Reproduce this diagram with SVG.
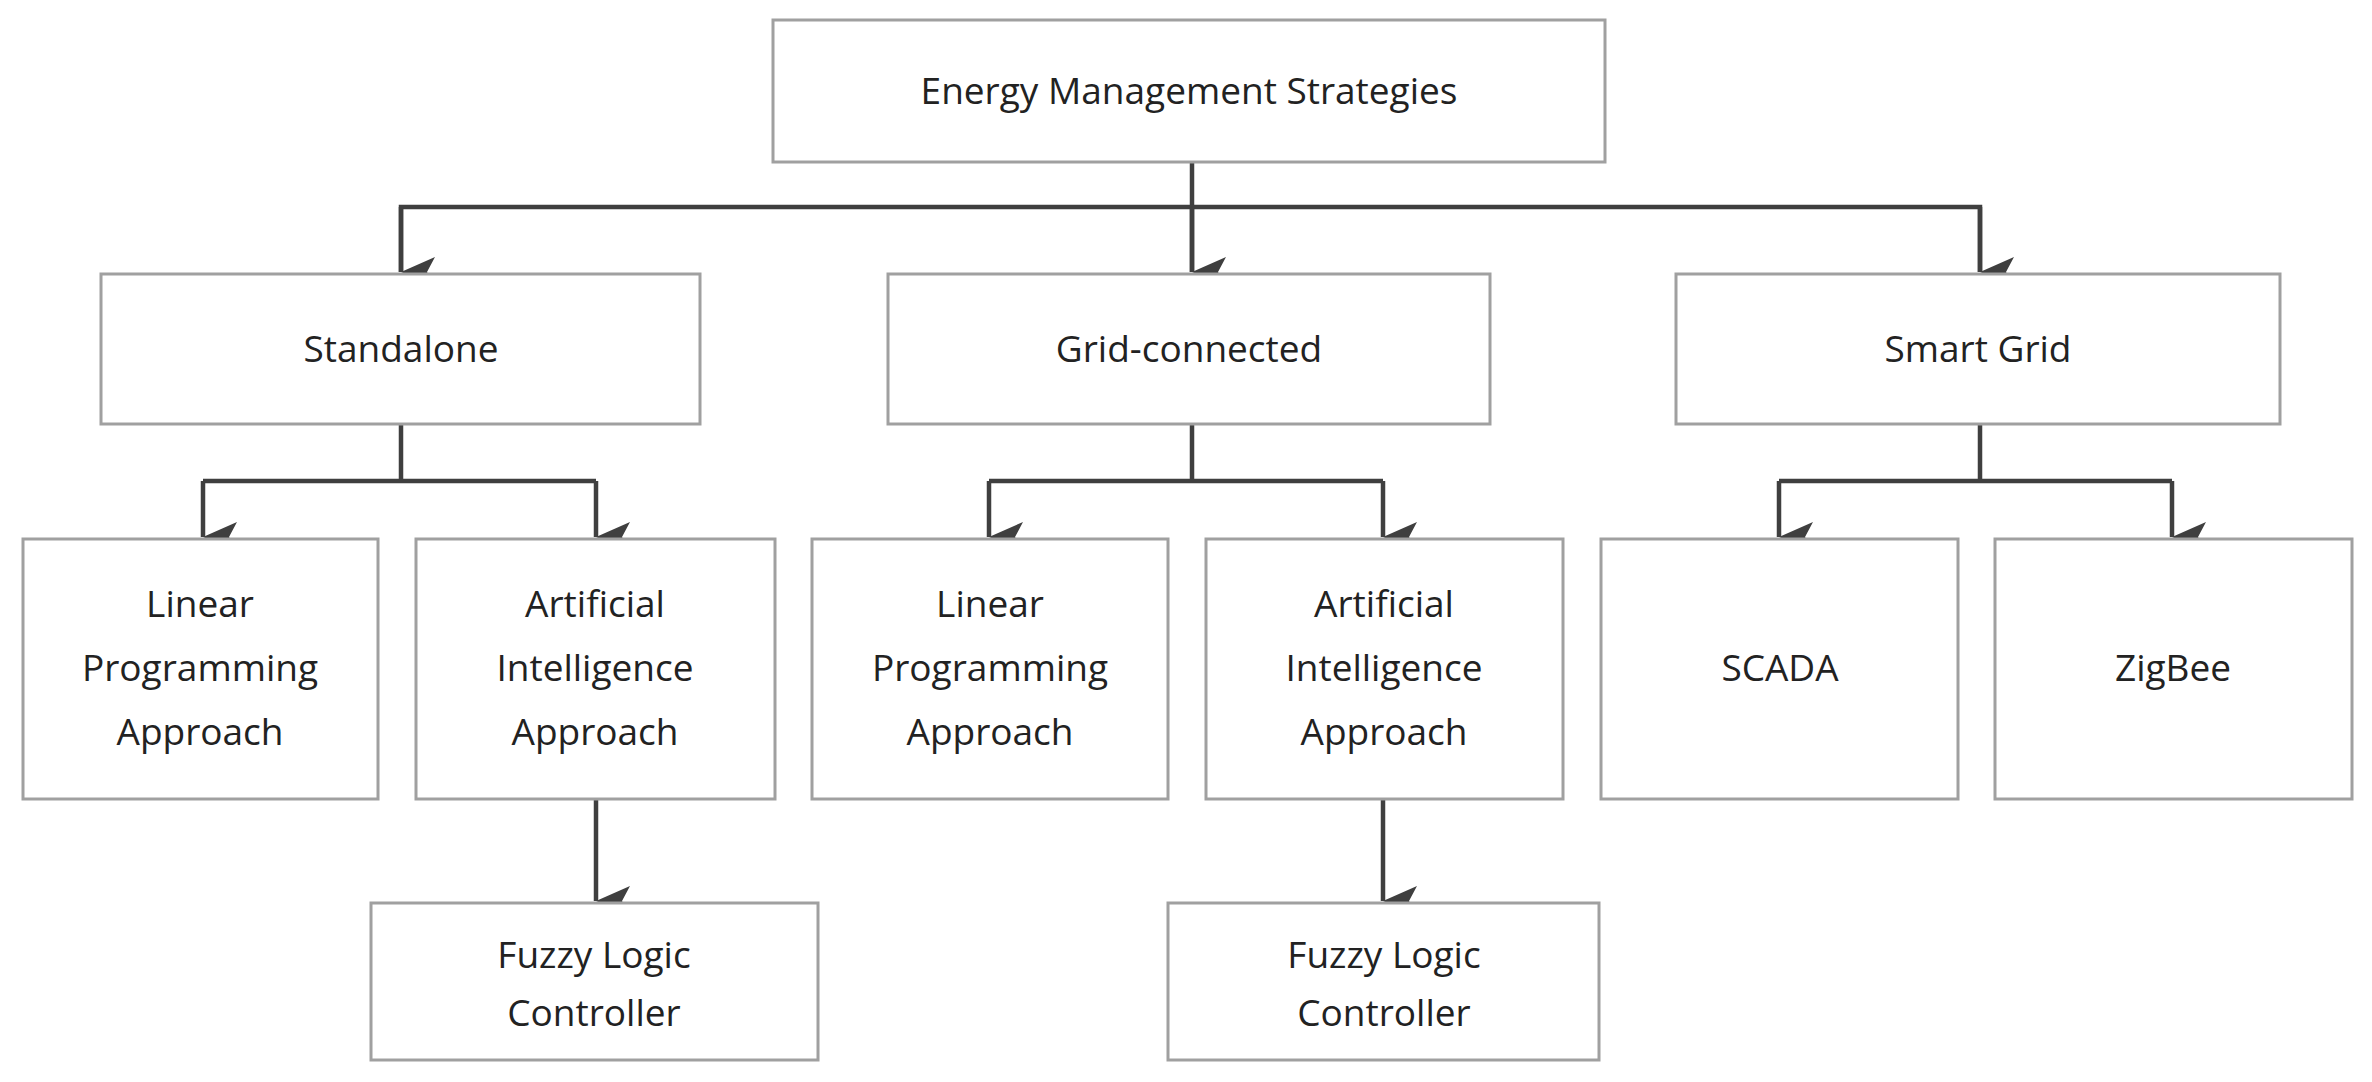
<svg xmlns="http://www.w3.org/2000/svg" width="2372" height="1082" viewBox="0 0 2372 1082">
<style>
.b{fill:#fff;stroke:#a0a0a0;stroke-width:3}
.t{font-family:"Open Sans","Liberation Sans",sans-serif;font-size:37px;fill:#222;text-anchor:middle}
.c{fill:none;stroke:#3f3f3f;stroke-width:4.5}
</style>
<defs><marker id="a" markerUnits="userSpaceOnUse" markerWidth="30" markerHeight="34" refX="15" refY="34" orient="auto-start-reverse" viewBox="0 0 30 34"><path d="M0 0 L15 8 L30 0 L15 34 Z" fill="#3f3f3f" transform="rotate(0)"/></marker></defs>
<rect width="2372" height="1082" fill="#fff"/>
<g id="connectors">
<path class="c" d="M1192 162 V272"/>
<path class="c" d="M401 272 V207 H1980 V272"/>
<path class="c" d="M401 207 V272" marker-end="url(#a)"/>
<path class="c" d="M1192 207 V272" marker-end="url(#a)"/>
<path class="c" d="M1980 207 V272" marker-end="url(#a)"/>
<path class="c" d="M401 424 V481 M203 481 H596 M989 481 H1383 M1192 424 V481 M1980 424 V481 M1779 481 H2172"/>
<path class="c" d="M203 481 V537" marker-end="url(#a)"/>
<path class="c" d="M596 481 V537" marker-end="url(#a)"/>
<path class="c" d="M989 481 V537" marker-end="url(#a)"/>
<path class="c" d="M1383 481 V537" marker-end="url(#a)"/>
<path class="c" d="M1779 481 V537" marker-end="url(#a)"/>
<path class="c" d="M2172 481 V537" marker-end="url(#a)"/>
<path class="c" d="M596 799 V901" marker-end="url(#a)"/>
<path class="c" d="M1383 799 V901" marker-end="url(#a)"/>
</g>
<g id="root"><rect class="b" x="773" y="20" width="832" height="142"/><text class="t" x="1189" y="104">Energy Management  Strategies</text></g>
<g id="standalone"><rect class="b" x="101" y="274" width="599" height="150"/><text class="t" x="401" y="362">Standalone</text></g>
<g id="grid"><rect class="b" x="888" y="274" width="602" height="150"/><text class="t" x="1189" y="362">Grid-connected</text></g>
<g id="smart"><rect class="b" x="1676" y="274" width="604" height="150"/><text class="t" x="1978" y="362">Smart Grid</text></g>
<g id="lp1"><rect class="b" x="23" y="539" width="355" height="260"/><text class="t" x="200" y="617">Linear</text><text class="t" x="200" y="681">Programming</text><text class="t" x="200" y="745">Approach</text></g>
<g id="ai1"><rect class="b" x="416" y="539" width="359" height="260"/><text class="t" x="595" y="617">Artificial</text><text class="t" x="595" y="681">Intelligence</text><text class="t" x="595" y="745">Approach</text></g>
<g id="lp2"><rect class="b" x="812" y="539" width="356" height="260"/><text class="t" x="990" y="617">Linear</text><text class="t" x="990" y="681">Programming</text><text class="t" x="990" y="745">Approach</text></g>
<g id="ai2"><rect class="b" x="1206" y="539" width="357" height="260"/><text class="t" x="1384" y="617">Artificial</text><text class="t" x="1384" y="681">Intelligence</text><text class="t" x="1384" y="745">Approach</text></g>
<g id="scada"><rect class="b" x="1601" y="539" width="357" height="260"/><text class="t" x="1780" y="681">SCADA</text></g>
<g id="zigbee"><rect class="b" x="1995" y="539" width="357" height="260"/><text class="t" x="2173" y="681">ZigBee</text></g>
<g id="flc1"><rect class="b" x="371" y="903" width="447" height="157"/><text class="t" x="594" y="968">Fuzzy Logic</text><text class="t" x="594" y="1026">Controller</text></g>
<g id="flc2"><rect class="b" x="1168" y="903" width="431" height="157"/><text class="t" x="1384" y="968">Fuzzy Logic</text><text class="t" x="1384" y="1026">Controller</text></g>
</svg>
